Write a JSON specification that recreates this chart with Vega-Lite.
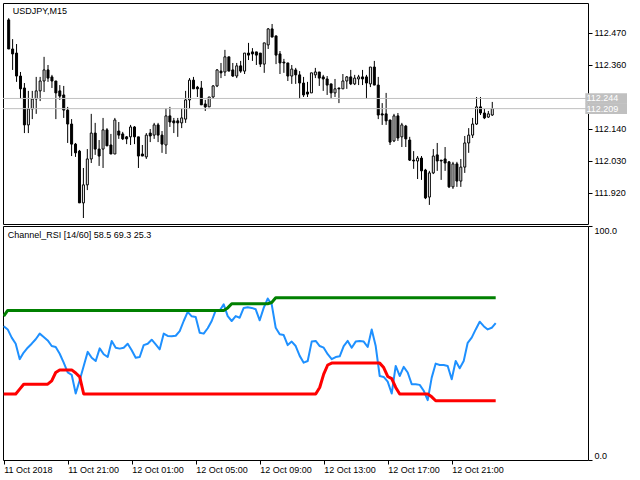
{
"$schema": "https://vega.github.io/schema/vega-lite/v6.json",
"background": "white",
"padding": {"left": 2, "top": 2, "right": 0, "bottom": 0},
"spacing": 0,
"config": {
  "view": {"stroke": "black", "strokeWidth": 1},
  "font": "Liberation Sans",
  "axis": {"labelFont": "Liberation Sans", "labelFontSize": 9, "labelColor": "black", "tickColor": "black", "domain": false, "grid": false, "tickSize": 4}
},
"data": {"values": [
{"t":"2018-10-11T17:00","o":112.514,"h":112.520,"l":112.414,"c":112.414,"r":57.2,"u":61.5,"d":28.2},
{"t":"2018-10-11T17:15","o":112.414,"h":112.448,"l":112.342,"c":112.397,"r":55.8,"u":63.9,"d":28.2},
{"t":"2018-10-11T17:30","o":112.400,"h":112.431,"l":112.301,"c":112.321,"r":52.3,"u":63.9,"d":28.2},
{"t":"2018-10-11T17:45","o":112.321,"h":112.335,"l":112.242,"c":112.277,"r":49.7,"u":63.9,"d":28.2},
{"t":"2018-10-11T18:00","o":112.280,"h":112.297,"l":112.125,"c":112.153,"r":43.1,"u":63.9,"d":30.3},
{"t":"2018-10-11T18:15","o":112.153,"h":112.270,"l":112.125,"c":112.208,"r":45.9,"u":63.9,"d":32.4},
{"t":"2018-10-11T18:30","o":112.208,"h":112.270,"l":112.173,"c":112.242,"r":48.0,"u":63.9,"d":32.4},
{"t":"2018-10-11T18:45","o":112.242,"h":112.318,"l":112.191,"c":112.270,"r":49.7,"u":63.9,"d":32.4},
{"t":"2018-10-11T19:00","o":112.270,"h":112.318,"l":112.235,"c":112.304,"r":51.6,"u":63.9,"d":32.4},
{"t":"2018-10-11T19:15","o":112.304,"h":112.387,"l":112.266,"c":112.342,"r":54.0,"u":63.9,"d":32.4},
{"t":"2018-10-11T19:30","o":112.342,"h":112.359,"l":112.301,"c":112.314,"r":52.6,"u":63.9,"d":32.4},
{"t":"2018-10-11T19:45","o":112.318,"h":112.325,"l":112.280,"c":112.304,"r":51.1,"u":63.9,"d":32.4},
{"t":"2018-10-11T20:00","o":112.304,"h":112.304,"l":112.173,"c":112.263,"r":48.7,"u":63.9,"d":33.8},
{"t":"2018-10-11T20:15","o":112.270,"h":112.290,"l":112.239,"c":112.252,"r":48.3,"u":63.9,"d":37.4},
{"t":"2018-10-11T20:30","o":112.256,"h":112.287,"l":112.177,"c":112.204,"r":45.4,"u":63.9,"d":38.5},
{"t":"2018-10-11T20:45","o":112.204,"h":112.215,"l":112.091,"c":112.156,"r":41.6,"u":63.9,"d":38.5},
{"t":"2018-10-11T21:00","o":112.156,"h":112.173,"l":112.046,"c":112.087,"r":37.4,"u":63.9,"d":38.5},
{"t":"2018-10-11T21:15","o":112.087,"h":112.091,"l":112.043,"c":112.057,"r":36.4,"u":63.9,"d":38.5},
{"t":"2018-10-11T21:30","o":112.063,"h":112.067,"l":111.885,"c":111.885,"r":28.4,"u":63.9,"d":37.2},
{"t":"2018-10-11T21:45","o":111.885,"h":112.005,"l":111.833,"c":111.947,"r":34.1,"u":63.9,"d":35.5},
{"t":"2018-10-11T22:00","o":111.947,"h":112.070,"l":111.929,"c":112.036,"r":40.2,"u":63.9,"d":28.2},
{"t":"2018-10-11T22:15","o":112.036,"h":112.191,"l":112.022,"c":112.125,"r":46.2,"u":63.9,"d":28.2},
{"t":"2018-10-11T22:30","o":112.125,"h":112.160,"l":112.050,"c":112.070,"r":43.7,"u":63.9,"d":28.2},
{"t":"2018-10-11T22:45","o":112.070,"h":112.101,"l":112.012,"c":112.046,"r":42.3,"u":63.9,"d":28.2},
{"t":"2018-10-11T23:00","o":112.070,"h":112.177,"l":112.005,"c":112.136,"r":47.7,"u":63.9,"d":28.2},
{"t":"2018-10-11T23:15","o":112.136,"h":112.142,"l":112.081,"c":112.081,"r":45.2,"u":63.9,"d":28.2},
{"t":"2018-10-11T23:30","o":112.084,"h":112.122,"l":112.053,"c":112.053,"r":44.0,"u":63.9,"d":28.2},
{"t":"2018-10-11T23:45","o":112.053,"h":112.177,"l":112.053,"c":112.170,"r":50.9,"u":63.9,"d":28.2},
{"t":"2018-10-12T00:00","o":112.132,"h":112.163,"l":112.105,"c":112.118,"r":48.0,"u":63.9,"d":28.2},
{"t":"2018-10-12T00:15","o":112.122,"h":112.129,"l":112.101,"c":112.105,"r":47.6,"u":63.9,"d":28.2},
{"t":"2018-10-12T00:30","o":112.112,"h":112.115,"l":112.087,"c":112.105,"r":48.0,"u":63.9,"d":28.2},
{"t":"2018-10-12T00:45","o":112.112,"h":112.153,"l":112.084,"c":112.146,"r":49.7,"u":63.9,"d":28.2},
{"t":"2018-10-12T01:00","o":112.146,"h":112.149,"l":112.087,"c":112.112,"r":46.9,"u":63.9,"d":28.2},
{"t":"2018-10-12T01:15","o":112.112,"h":112.112,"l":112.005,"c":112.046,"r":43.7,"u":63.9,"d":28.2},
{"t":"2018-10-12T01:30","o":112.053,"h":112.084,"l":112.046,"c":112.046,"r":44.0,"u":63.9,"d":28.2},
{"t":"2018-10-12T01:45","o":112.043,"h":112.125,"l":112.036,"c":112.118,"r":49.1,"u":63.9,"d":28.2},
{"t":"2018-10-12T02:00","o":112.125,"h":112.139,"l":112.094,"c":112.115,"r":49.7,"u":63.9,"d":28.2},
{"t":"2018-10-12T02:15","o":112.118,"h":112.160,"l":112.105,"c":112.153,"r":51.4,"u":63.9,"d":28.2},
{"t":"2018-10-12T02:30","o":112.153,"h":112.160,"l":112.094,"c":112.118,"r":49.4,"u":63.9,"d":28.2},
{"t":"2018-10-12T02:45","o":112.118,"h":112.132,"l":112.057,"c":112.087,"r":47.3,"u":63.9,"d":28.2},
{"t":"2018-10-12T03:00","o":112.084,"h":112.211,"l":112.053,"c":112.184,"r":54.0,"u":63.9,"d":28.2},
{"t":"2018-10-12T03:15","o":112.184,"h":112.215,"l":112.146,"c":112.163,"r":53.0,"u":63.9,"d":28.2},
{"t":"2018-10-12T03:30","o":112.167,"h":112.177,"l":112.125,"c":112.160,"r":52.9,"u":63.9,"d":28.2},
{"t":"2018-10-12T03:45","o":112.167,"h":112.177,"l":112.112,"c":112.160,"r":53.1,"u":63.9,"d":28.2},
{"t":"2018-10-12T04:00","o":112.160,"h":112.211,"l":112.142,"c":112.177,"r":55.1,"u":63.9,"d":28.2},
{"t":"2018-10-12T04:15","o":112.173,"h":112.270,"l":112.160,"c":112.239,"r":59.4,"u":63.9,"d":28.2},
{"t":"2018-10-12T04:30","o":112.239,"h":112.314,"l":112.208,"c":112.307,"r":63.3,"u":63.9,"d":28.2},
{"t":"2018-10-12T04:45","o":112.307,"h":112.318,"l":112.277,"c":112.277,"r":61.4,"u":63.9,"d":28.2},
{"t":"2018-10-12T05:00","o":112.283,"h":112.287,"l":112.249,"c":112.277,"r":61.1,"u":63.9,"d":28.2},
{"t":"2018-10-12T05:15","o":112.280,"h":112.304,"l":112.222,"c":112.222,"r":54.4,"u":63.9,"d":28.2},
{"t":"2018-10-12T05:30","o":112.225,"h":112.239,"l":112.201,"c":112.215,"r":54.0,"u":63.9,"d":28.2},
{"t":"2018-10-12T05:45","o":112.215,"h":112.249,"l":112.215,"c":112.249,"r":56.3,"u":63.9,"d":28.2},
{"t":"2018-10-12T06:00","o":112.249,"h":112.290,"l":112.242,"c":112.287,"r":59.4,"u":63.9,"d":28.2},
{"t":"2018-10-12T06:15","o":112.287,"h":112.345,"l":112.283,"c":112.342,"r":63.9,"u":63.9,"d":28.2},
{"t":"2018-10-12T06:30","o":112.338,"h":112.366,"l":112.314,"c":112.332,"r":63.9,"u":63.9,"d":28.2},
{"t":"2018-10-12T06:45","o":112.335,"h":112.411,"l":112.321,"c":112.387,"r":66.5,"u":63.9,"d":28.2},
{"t":"2018-10-12T07:00","o":112.387,"h":112.387,"l":112.338,"c":112.338,"r":61.5,"u":65.0,"d":28.2},
{"t":"2018-10-12T07:15","o":112.342,"h":112.366,"l":112.318,"c":112.321,"r":59.4,"u":66.8,"d":28.2},
{"t":"2018-10-12T07:30","o":112.321,"h":112.366,"l":112.314,"c":112.356,"r":61.5,"u":66.8,"d":28.2},
{"t":"2018-10-12T07:45","o":112.356,"h":112.373,"l":112.332,"c":112.338,"r":60.8,"u":66.8,"d":28.2},
{"t":"2018-10-12T08:00","o":112.338,"h":112.400,"l":112.328,"c":112.400,"r":65.0,"u":66.8,"d":28.2},
{"t":"2018-10-12T08:15","o":112.400,"h":112.435,"l":112.376,"c":112.393,"r":65.3,"u":66.8,"d":28.2},
{"t":"2018-10-12T08:30","o":112.404,"h":112.417,"l":112.373,"c":112.397,"r":65.0,"u":66.8,"d":28.2},
{"t":"2018-10-12T08:45","o":112.404,"h":112.404,"l":112.359,"c":112.393,"r":64.4,"u":66.8,"d":28.2},
{"t":"2018-10-12T09:00","o":112.400,"h":112.400,"l":112.352,"c":112.362,"r":59.7,"u":66.8,"d":28.2},
{"t":"2018-10-12T09:15","o":112.362,"h":112.435,"l":112.332,"c":112.435,"r":65.0,"u":66.8,"d":28.2},
{"t":"2018-10-12T09:30","o":112.428,"h":112.486,"l":112.414,"c":112.483,"r":69.0,"u":66.8,"d":28.2},
{"t":"2018-10-12T09:45","o":112.483,"h":112.500,"l":112.455,"c":112.455,"r":66.5,"u":67.3,"d":28.2},
{"t":"2018-10-12T10:00","o":112.459,"h":112.459,"l":112.362,"c":112.393,"r":56.5,"u":69.3,"d":28.2},
{"t":"2018-10-12T10:15","o":112.397,"h":112.407,"l":112.328,"c":112.366,"r":53.7,"u":69.3,"d":28.2},
{"t":"2018-10-12T10:30","o":112.369,"h":112.380,"l":112.332,"c":112.366,"r":53.4,"u":69.3,"d":28.2},
{"t":"2018-10-12T10:45","o":112.366,"h":112.366,"l":112.304,"c":112.321,"r":49.1,"u":69.3,"d":28.2},
{"t":"2018-10-12T11:00","o":112.321,"h":112.359,"l":112.294,"c":112.345,"r":50.6,"u":69.3,"d":28.2},
{"t":"2018-10-12T11:15","o":112.342,"h":112.349,"l":112.294,"c":112.325,"r":48.7,"u":69.3,"d":28.2},
{"t":"2018-10-12T11:30","o":112.325,"h":112.338,"l":112.242,"c":112.297,"r":44.5,"u":69.3,"d":28.2},
{"t":"2018-10-12T11:45","o":112.297,"h":112.318,"l":112.249,"c":112.256,"r":41.6,"u":69.3,"d":28.2},
{"t":"2018-10-12T12:00","o":112.266,"h":112.301,"l":112.249,"c":112.259,"r":42.3,"u":69.3,"d":28.2},
{"t":"2018-10-12T12:15","o":112.263,"h":112.332,"l":112.263,"c":112.332,"r":50.6,"u":69.3,"d":28.2},
{"t":"2018-10-12T12:30","o":112.325,"h":112.349,"l":112.314,"c":112.335,"r":50.9,"u":69.3,"d":28.2},
{"t":"2018-10-12T12:45","o":112.335,"h":112.335,"l":112.287,"c":112.314,"r":48.7,"u":69.3,"d":31.0},
{"t":"2018-10-12T13:00","o":112.318,"h":112.325,"l":112.270,"c":112.311,"r":48.0,"u":69.3,"d":36.7},
{"t":"2018-10-12T13:15","o":112.311,"h":112.321,"l":112.256,"c":112.290,"r":45.2,"u":69.3,"d":40.6},
{"t":"2018-10-12T13:30","o":112.294,"h":112.294,"l":112.242,"c":112.263,"r":43.1,"u":69.3,"d":41.4},
{"t":"2018-10-12T13:45","o":112.263,"h":112.311,"l":112.249,"c":112.277,"r":44.0,"u":69.3,"d":41.4},
{"t":"2018-10-12T14:00","o":112.280,"h":112.280,"l":112.228,"c":112.277,"r":44.3,"u":69.3,"d":41.4},
{"t":"2018-10-12T14:15","o":112.277,"h":112.328,"l":112.277,"c":112.304,"r":48.7,"u":69.3,"d":41.4},
{"t":"2018-10-12T14:30","o":112.304,"h":112.321,"l":112.277,"c":112.318,"r":50.9,"u":69.3,"d":41.4},
{"t":"2018-10-12T14:45","o":112.318,"h":112.342,"l":112.290,"c":112.294,"r":48.0,"u":69.3,"d":41.4},
{"t":"2018-10-12T15:00","o":112.294,"h":112.325,"l":112.290,"c":112.314,"r":50.6,"u":69.3,"d":41.4},
{"t":"2018-10-12T15:15","o":112.311,"h":112.325,"l":112.290,"c":112.318,"r":50.9,"u":69.3,"d":41.4},
{"t":"2018-10-12T15:30","o":112.318,"h":112.342,"l":112.290,"c":112.311,"r":50.6,"u":69.3,"d":41.4},
{"t":"2018-10-12T15:45","o":112.318,"h":112.325,"l":112.242,"c":112.297,"r":48.3,"u":69.3,"d":41.4},
{"t":"2018-10-12T16:00","o":112.294,"h":112.352,"l":112.283,"c":112.352,"r":55.8,"u":69.3,"d":41.4},
{"t":"2018-10-12T16:15","o":112.352,"h":112.373,"l":112.290,"c":112.290,"r":48.7,"u":69.3,"d":41.4},
{"t":"2018-10-12T16:30","o":112.290,"h":112.318,"l":112.173,"c":112.187,"r":35.9,"u":69.3,"d":41.4},
{"t":"2018-10-12T16:45","o":112.191,"h":112.228,"l":112.153,"c":112.187,"r":35.5,"u":69.3,"d":39.5},
{"t":"2018-10-12T17:00","o":112.191,"h":112.263,"l":112.153,"c":112.167,"r":33.5,"u":69.3,"d":35.7},
{"t":"2018-10-12T17:15","o":112.170,"h":112.170,"l":112.084,"c":112.094,"r":28.4,"u":69.3,"d":34.8},
{"t":"2018-10-12T17:30","o":112.098,"h":112.191,"l":112.094,"c":112.184,"r":40.2,"u":69.3,"d":31.0},
{"t":"2018-10-12T17:45","o":112.184,"h":112.194,"l":112.098,"c":112.108,"r":35.9,"u":69.3,"d":28.2},
{"t":"2018-10-12T18:00","o":112.112,"h":112.160,"l":112.077,"c":112.153,"r":39.8,"u":69.3,"d":28.2},
{"t":"2018-10-12T18:15","o":112.149,"h":112.153,"l":112.077,"c":112.105,"r":37.4,"u":69.3,"d":28.2},
{"t":"2018-10-12T18:30","o":112.101,"h":112.112,"l":112.029,"c":112.032,"r":32.4,"u":69.3,"d":28.2},
{"t":"2018-10-12T18:45","o":112.032,"h":112.063,"l":112.002,"c":112.029,"r":32.4,"u":69.3,"d":28.2},
{"t":"2018-10-12T19:00","o":112.029,"h":112.046,"l":111.967,"c":112.039,"r":32.1,"u":69.3,"d":28.2},
{"t":"2018-10-12T19:15","o":112.039,"h":112.046,"l":111.964,"c":111.995,"r":29.6,"u":69.3,"d":28.2},
{"t":"2018-10-12T19:30","o":111.998,"h":112.002,"l":111.898,"c":111.902,"r":25.6,"u":69.3,"d":28.2},
{"t":"2018-10-12T19:45","o":111.905,"h":111.995,"l":111.878,"c":111.988,"r":35.2,"u":69.3,"d":27.0},
{"t":"2018-10-12T20:00","o":111.988,"h":112.070,"l":111.984,"c":112.046,"r":41.2,"u":69.3,"d":25.3},
{"t":"2018-10-12T20:15","o":112.050,"h":112.091,"l":111.995,"c":112.029,"r":40.6,"u":69.3,"d":25.3},
{"t":"2018-10-12T20:30","o":112.032,"h":112.032,"l":111.964,"c":112.029,"r":40.6,"u":69.3,"d":25.3},
{"t":"2018-10-12T20:45","o":112.036,"h":112.077,"l":111.995,"c":112.022,"r":40.2,"u":69.3,"d":25.3},
{"t":"2018-10-12T21:00","o":112.026,"h":112.029,"l":111.936,"c":111.940,"r":34.5,"u":69.3,"d":25.3},
{"t":"2018-10-12T21:15","o":111.940,"h":112.026,"l":111.933,"c":112.019,"r":42.3,"u":69.3,"d":25.3},
{"t":"2018-10-12T21:30","o":112.019,"h":112.026,"l":111.940,"c":111.960,"r":39.2,"u":69.3,"d":25.3},
{"t":"2018-10-12T21:45","o":111.960,"h":112.036,"l":111.940,"c":112.008,"r":42.3,"u":69.3,"d":25.3},
{"t":"2018-10-12T22:00","o":112.008,"h":112.115,"l":111.988,"c":112.091,"r":50.1,"u":69.3,"d":25.3},
{"t":"2018-10-12T22:15","o":112.091,"h":112.142,"l":112.057,"c":112.118,"r":52.3,"u":69.3,"d":25.3},
{"t":"2018-10-12T22:30","o":112.118,"h":112.177,"l":112.108,"c":112.156,"r":55.8,"u":69.3,"d":25.3},
{"t":"2018-10-12T22:45","o":112.156,"h":112.249,"l":112.153,"c":112.215,"r":59.1,"u":69.3,"d":25.3},
{"t":"2018-10-12T23:00","o":112.215,"h":112.249,"l":112.187,"c":112.194,"r":57.2,"u":69.3,"d":25.3},
{"t":"2018-10-12T23:15","o":112.194,"h":112.208,"l":112.173,"c":112.177,"r":55.8,"u":69.3,"d":25.3},
{"t":"2018-10-12T23:30","o":112.180,"h":112.201,"l":112.177,"c":112.191,"r":56.5,"u":69.3,"d":25.3},
{"t":"2018-10-12T23:45","o":112.187,"h":112.232,"l":112.184,"c":112.209,"r":58.5,"u":69.3,"d":25.3}
]},
"vconcat": [
{
  "width": 585, "height": 221,
  "layer": [
    {"mark": {"type": "rule", "color": "black", "strokeWidth": 1, "clip": true},
     "encoding": {
       "x": {"field": "t", "type": "temporal", "axis": null,
             "scale": {"domain": [{"year":2018,"month":10,"date":11,"hours":16,"minutes":57,"seconds":22},{"year":2018,"month":10,"date":13,"hours":5,"minutes":31,"seconds":7}]}},
       "y": {"field": "l", "type": "quantitative",
             "scale": {"domain": [111.8124, 112.5721], "zero": false, "nice": false},
             "axis": {"orient": "right", "title": null, "values": [111.92, 112.03, 112.14, 112.36, 112.47], "format": ".3f", "labelPadding": 2}},
       "y2": {"field": "h"}
     }},
    {"mark": {"type": "bar", "size": 2, "stroke": "black", "strokeWidth": 1, "clip": true},
     "encoding": {
       "x": {"field": "t", "type": "temporal"},
       "y": {"field": "o", "type": "quantitative"},
       "y2": {"field": "c"},
       "fill": {"condition": {"test": "datum.c >= datum.o", "value": "white"}, "value": "black"}
     }},
    {"data": {"values": [{"p": 112.244, "lab": "112.244"}, {"p": 112.209, "lab": "112.209"}]},
     "mark": {"type": "rule", "color": "#c0c0c0", "strokeWidth": 1},
     "encoding": {"y": {"field": "p", "type": "quantitative"}}},
    {"data": {"values": [{"p": 112.244, "lab": "112.244"}, {"p": 112.209, "lab": "112.209"}]},
     "mark": {"type": "rect", "color": "#c0c0c0", "xOffset": 2.3, "x2Offset": 44, "yOffset": -5.3, "y2Offset": 5.3},
     "encoding": {
       "x": {"datum": {"year":2018,"month":10,"date":13,"hours":5,"minutes":31,"seconds":7}, "type": "temporal"},
       "x2": {"datum": {"year":2018,"month":10,"date":13,"hours":5,"minutes":31,"seconds":7}},
       "y": {"field": "p", "type": "quantitative"},
       "y2": {"field": "p"}
     }},
    {"data": {"values": [{"p": 112.244, "lab": "112.244"}, {"p": 112.209, "lab": "112.209"}]},
     "mark": {"type": "text", "color": "white", "align": "left", "baseline": "middle", "dx": 3.5, "fontSize": 9, "font": "Liberation Sans"},
     "encoding": {
       "x": {"datum": {"year":2018,"month":10,"date":13,"hours":5,"minutes":31,"seconds":7}, "type": "temporal"},
       "y": {"field": "p", "type": "quantitative"},
       "text": {"field": "lab"}
     }},
    {"data": {"values": [{"lab": "USDJPY,M15"}]},
     "mark": {"type": "text", "color": "black", "align": "left", "baseline": "middle", "dx": 4.7, "dy": 8, "fontSize": 9, "font": "Liberation Sans"},
     "encoding": {
       "x": {"datum": {"year":2018,"month":10,"date":11,"hours":16,"minutes":57,"seconds":22}, "type": "temporal"},
       "y": {"datum": 112.5721, "type": "quantitative"},
       "text": {"field": "lab"}
     }}
  ]
},
{
  "width": 585, "height": 234,
  "layer": [
    {"mark": {"type": "line", "color": "#1E90FF", "strokeWidth": 2, "strokeJoin": "round", "clip": true},
     "encoding": {
       "x": {"field": "t", "type": "temporal",
             "scale": {"domain": [{"year":2018,"month":10,"date":11,"hours":16,"minutes":57,"seconds":22},{"year":2018,"month":10,"date":13,"hours":5,"minutes":31,"seconds":7}]},
             "axis": {"title": null,
                      "values": [{"year":2018,"month":10,"date":11,"hours":17},{"year":2018,"month":10,"date":11,"hours":21},{"year":2018,"month":10,"date":12,"hours":1},{"year":2018,"month":10,"date":12,"hours":5},{"year":2018,"month":10,"date":12,"hours":9},{"year":2018,"month":10,"date":12,"hours":13},{"year":2018,"month":10,"date":12,"hours":17},{"year":2018,"month":10,"date":12,"hours":21}],
                      "labelExpr": "timeFormat(datum.value, '%d %H') == '11 17' ? '11 Oct 2018' : timeFormat(datum.value, '%d %b %H:%M')",
                      "labelAlign": "left", "labelBaseline": "top", "labelPadding": 1, "labelFlush": false}},
       "y": {"field": "r", "type": "quantitative",
             "scale": {"domain": [0, 100], "nice": false, "zero": false},
             "axis": {"orient": "right", "title": null, "values": [0, 100], "format": ".1f", "labelPadding": 2,
                      "labelBaseline": {"condition": {"test": "datum.value > 50", "value": "top"}, "value": "bottom"}}}
     }},
    {"mark": {"type": "line", "color": "#008000", "strokeWidth": 3, "strokeJoin": "round", "clip": true},
     "encoding": {
       "x": {"field": "t", "type": "temporal"},
       "y": {"field": "u", "type": "quantitative"}
     }},
    {"mark": {"type": "line", "color": "#FF0000", "strokeWidth": 3, "strokeJoin": "round", "clip": true},
     "encoding": {
       "x": {"field": "t", "type": "temporal"},
       "y": {"field": "d", "type": "quantitative"}
     }},
    {"data": {"values": [{"lab": "Channel_RSI [14/60] 58.5 69.3 25.3"}]},
     "mark": {"type": "text", "color": "black", "align": "left", "baseline": "middle", "dx": 4.7, "dy": 9.3, "fontSize": 9, "font": "Liberation Sans"},
     "encoding": {
       "x": {"datum": {"year":2018,"month":10,"date":11,"hours":16,"minutes":57,"seconds":22}, "type": "temporal"},
       "y": {"datum": 100, "type": "quantitative"},
       "text": {"field": "lab"}
     }}
  ]
}
]
}
